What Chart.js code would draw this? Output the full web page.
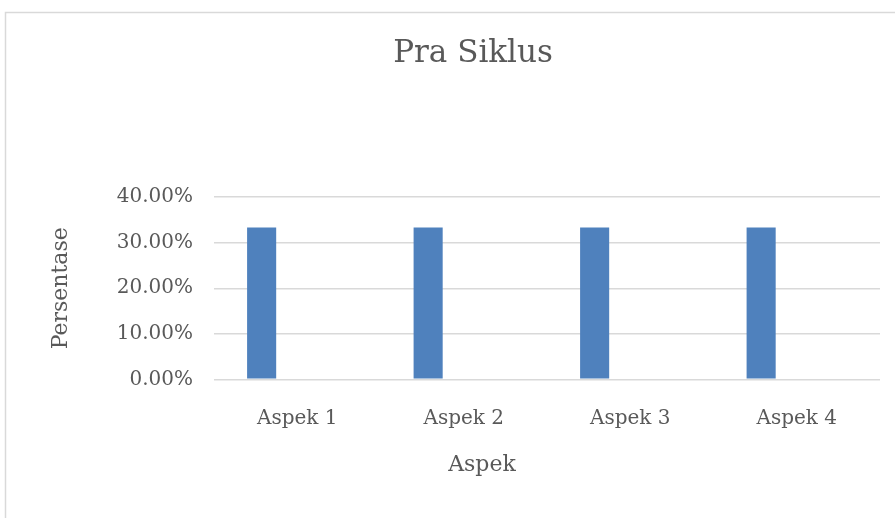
<!DOCTYPE html>
<html>
<head>
<meta charset="utf-8">
<script src="https://cdn.jsdelivr.net/npm/chart.js@4.4.0/dist/chart.umd.min.js"></script>
<style>
  html, body { margin: 0; padding: 0; background: #fff; }
  #wrap { position: relative; width: 895px; height: 518px; }
</style>
</head>
<body>
<div id="wrap"><canvas id="chart" width="895" height="518"></canvas></div>
<script>
const categories = ['Aspek 1', 'Aspek 2', 'Aspek 3', 'Aspek 4'];
const series1 = [33.33, 33.33, 33.33, 33.33];
const series2 = [0, 0, 0, 0];
const series3 = [0, 0, 0, 0];
const yTicks = [0, 10, 20, 30, 40];

const textColor = '#595959';
const serif = "'DejaVu Serif', 'Liberation Serif', serif";

// gray frame of the chart box (only top and left edges are inside the picture)
const frame = {
  id: 'frame',
  beforeDraw(chart) {
    const ctx = chart.ctx;
    ctx.save();
    ctx.strokeStyle = '#d9d9d9';
    ctx.lineWidth = 1.5;
    ctx.beginPath();
    ctx.moveTo(5.5, chart.height);
    ctx.lineTo(5.5, 12.5);
    ctx.lineTo(chart.width, 12.5);
    ctx.stroke();
    ctx.restore();
  }
};

// x axis title (drawn by the subtitle block) sits a bit right of the main title in the original
const nudgeAxisTitle = {
  id: 'nudgeAxisTitle',
  afterLayout(chart) {
    const box = chart.boxes.find(b => b.options && b.options.text === 'Aspek');
    if (box) { box.left += 9; box.right += 9; }
  }
};

const config = {
  type: 'bar',
  data: {
    labels: categories,
    datasets: [
      { label: 'Series 1', data: series1, backgroundColor: '#4f81bd' },
      { label: 'Series 2', data: series2, backgroundColor: '#c0504d' },
      { label: 'Series 3', data: series3, backgroundColor: '#9bbb59' }
    ]
  },
  options: {
    responsive: false,
    animation: false,
    categoryPercentage: 0.6416,
    barPercentage: 0.817,
    layout: {
      padding: { left: 66, right: 15, top: 20, bottom: 0 }
    },
    plugins: {
      legend: { display: false },
      tooltip: { enabled: false },
      title: {
        display: true,
        text: 'Pra Siklus',
        color: textColor,
        font: { family: serif, size: 31, weight: 'normal' },
        padding: { top: 15, bottom: 125 }
      },
      subtitle: {
        display: true,
        position: 'bottom',
        text: 'Aspek',
        color: textColor,
        font: { family: serif, size: 22, weight: 'normal' },
        padding: { top: 12.5, bottom: 39.8 }
      }
    },
    scales: {
      x: {
        grid: { display: false },
        border: { display: false },
        ticks: {
          color: textColor,
          font: { family: serif, size: 20 },
          padding: 19
        },
        afterFit(scale) { scale.height = 60; }
      },
      y: {
        min: yTicks[0],
        max: yTicks[yTicks.length - 1],
        afterBuildTicks(scale) {
          scale.ticks = yTicks.map(v => ({ value: v }));
        },
        grid: { color: '#d9d9d9', lineWidth: 1.5, drawTicks: false },
        border: { display: false },
        ticks: {
          color: textColor,
          font: { family: serif, size: 20 },
          padding: 21,
          callback: v => v.toFixed(2) + '%'
        },
        title: {
          display: true,
          text: 'Persentase',
          color: textColor,
          font: { family: serif, size: 22 },
          padding: { top: -18, bottom: 0 }
        },
        afterFit(scale) { scale.width = 148; }
      }
    }
  },
  plugins: [frame, nudgeAxisTitle]
};

const chart = new Chart(document.getElementById('chart'), config);
</script>
</body>
</html>
